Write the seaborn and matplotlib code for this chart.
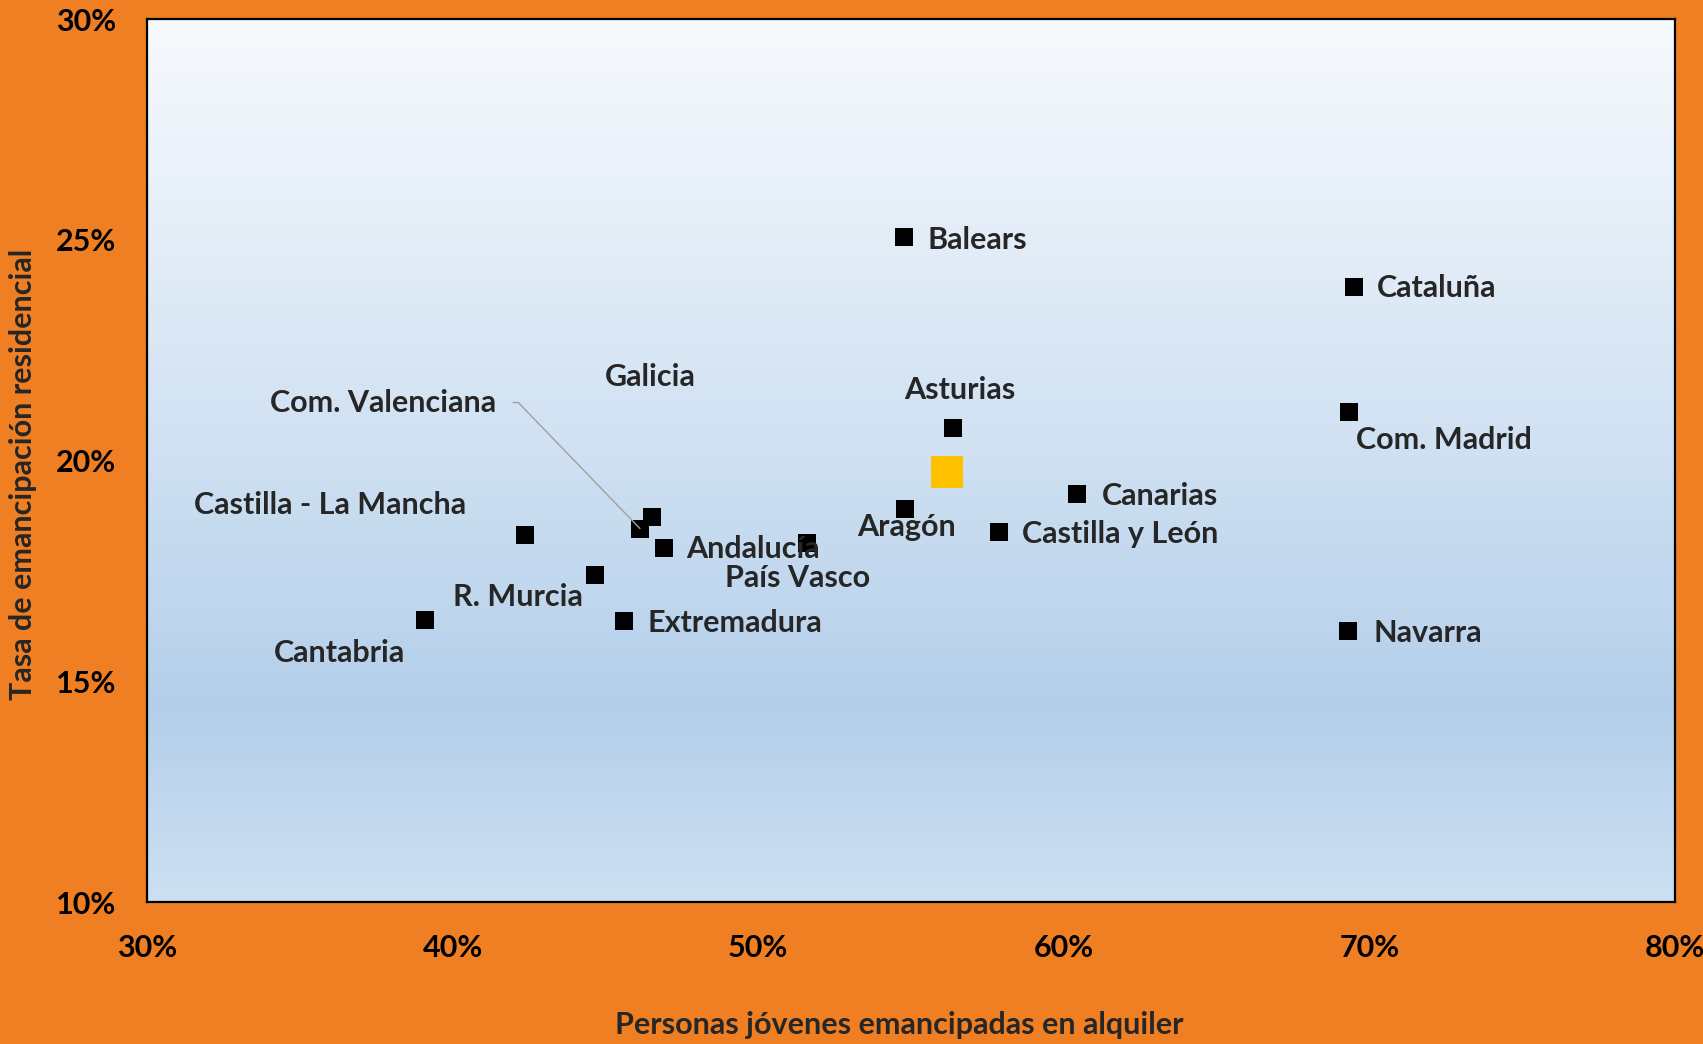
import numpy as np
import pandas as pd
import seaborn as sns
import matplotlib.pyplot as plt
from matplotlib.colors import LinearSegmentedColormap

# data (percent)
regiones = ["Balears", "Cataluña", "Com. Madrid", "Navarra", "Asturias", "Canarias",
            "Aragón", "Castilla y León", "País Vasco", "Andalucía", "Galicia",
            "Com. Valenciana", "Castilla - La Mancha", "R. Murcia", "Extremadura",
            "Cantabria"]
alquiler = [54.77, 69.49, 69.33, 69.30, 56.38, 60.44, 54.81, 57.88, 51.59, 46.92,
            46.53, 46.13, 42.37, 44.66, 45.60, 39.11]
emancipacion = [25.07, 23.92, 21.09, 16.14, 20.73, 19.24, 18.91, 18.39, 18.14, 18.02,
                18.73, 18.46, 18.31, 17.40, 16.37, 16.39]

# national average (yellow square)
espana_alquiler = [56.19]
espana_emancipacion = [19.75]

x_ticks = [30, 40, 50, 60, 70, 80]
y_ticks = [10, 15, 20, 25, 30]

# label placement: offset in pixels (dx right, dy up) and alignment
label_pos = {
    "Balears": (24, -3, "left"),
    "Cataluña": (23, -1, "left"),
    "Com. Madrid": (7, -28, "left"),
    "Navarra": (25, -2, "left"),
    "Asturias": (7, 38, "center"),
    "Canarias": (25, -2, "left"),
    "Aragón": (1, -18, "center"),
    "Castilla y León": (23, -2, "left"),
    "País Vasco": (-9, -35, "center"),
    "Andalucía": (22, -1, "left"),
    "Galicia": (-2, 140, "center"),
    "Com. Valenciana": (-144, 126, "right"),
    "Castilla - La Mancha": (-59, 30, "right"),
    "R. Murcia": (-12, -22, "right"),
    "Extremadura": (24, -2, "left"),
    "Cantabria": (-20, -33, "right"),
}

df = pd.DataFrame({"region": regiones, "alquiler": alquiler, "emancipacion": emancipacion})
df_es = pd.DataFrame({"alquiler": espana_alquiler, "emancipacion": espana_emancipacion})

sns.set_style("white")
plt.rcParams['font.family'] = ['Lato', 'DejaVu Sans']
plt.rcParams['font.weight'] = 'bold'

orange = "#EF7F22"
fig = plt.figure(figsize=(17.03, 10.44), dpi=100, facecolor=orange)
ax = fig.add_axes([0.0863, 0.136, 0.8973, 0.8458])

# background gradient inside the plot area (light at top, blue lower down)
grad_cmap = LinearSegmentedColormap.from_list(
    "bg", [(0.0, "#F7FAFD"), (0.45, "#D3E3F3"), (0.78, "#B4CFEA"), (1.0, "#CDE0F2")]
)
grad = np.linspace(0, 1, 256).reshape(-1, 1)
ax.imshow(grad, cmap=grad_cmap, aspect="auto", extent=[0, 1, 0, 1], origin="upper",
          transform=ax.transAxes, zorder=0)

sns.scatterplot(data=df, x="alquiler", y="emancipacion", marker="s", s=150,
                color="black", linewidth=0, ax=ax, zorder=3)
sns.scatterplot(data=df_es, x="alquiler", y="emancipacion", marker="s", s=500,
                color="#FFC000", linewidth=0, ax=ax, zorder=3)

for reg, xv, yv in zip(regiones, alquiler, emancipacion):
    dx, dy, ha = label_pos[reg]
    if reg == "Com. Valenciana":
        ax.annotate(reg, xy=(xv, yv), xytext=(dx, dy), textcoords="offset pixels",
                    ha=ha, va="center", fontsize=22, fontweight="bold", zorder=4,
                    arrowprops=dict(arrowstyle="-", color="#A0A0A0", lw=1,
                                    relpos=(1, 0.5), shrinkA=10, shrinkB=0,
                                    connectionstyle="angle,angleA=0,angleB=134,rad=0"))
    else:
        ax.annotate(reg, xy=(xv, yv), xytext=(dx, dy), textcoords="offset pixels",
                    ha=ha, va="center", fontsize=22, fontweight="bold", zorder=4)

ax.set_xlim(30, 80)
ax.set_ylim(10, 30)
ax.set_xticks(x_ticks)
ax.set_yticks(y_ticks)
ax.set_xticklabels([f"{t}%" for t in x_ticks])
ax.set_yticklabels([f"{t}%" for t in y_ticks])
ax.tick_params(axis="both", length=0, labelsize=22, colors="black")
ax.tick_params(axis="x", pad=23)
ax.tick_params(axis="y", pad=22)
for lbl in ax.get_xticklabels() + ax.get_yticklabels():
    lbl.set_fontweight("bold")

ax.set_xlabel("Personas jóvenes emancipadas en alquiler", fontsize=22, fontweight="bold")
ax.set_ylabel("Tasa de emancipación residencial", fontsize=22, fontweight="bold")
ax.xaxis.set_label_coords(0.492, -0.123)
ax.yaxis.set_label_coords(-0.072, 0.484)

for sp in ax.spines.values():
    sp.set_visible(True)
    sp.set_color("black")
    sp.set_linewidth(1.6)

fig.savefig("out.png", dpi=100, facecolor=orange)
